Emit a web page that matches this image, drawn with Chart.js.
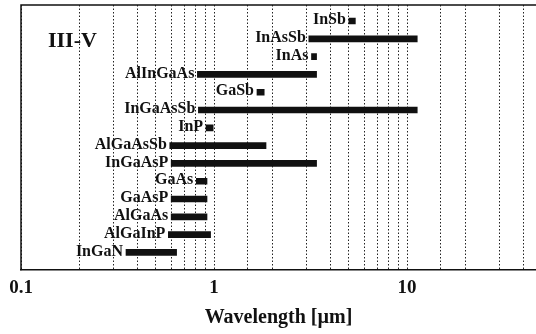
<!DOCTYPE html>
<html>
<head>
<meta charset="utf-8">
<script src="https://cdn.jsdelivr.net/npm/chart.js@4"></script>
<style>
  html, body { margin: 0; padding: 0; background: #fff; }
  #wrap { width: 536px; height: 334px; }
</style>
</head>
<body>
<div id="wrap"><canvas id="chart"></canvas></div>
<script>
// III-V material families and their emission wavelength ranges (µm)
const materials = ["InSb", "InAsSb", "InAs", "AlInGaAs", "GaSb", "InGaAsSb", "InP",
  "AlGaAsSb", "InGaAsP", "GaAs", "GaAsP", "AlGaAs", "AlGaInP", "InGaN"];
const lowUm  = [5.0, 3.1, 3.2, 0.82, 1.67, 0.83, 0.91, 0.59, 0.60, 0.81, 0.60, 0.60, 0.58, 0.35];
const highUm = [5.4, 11.3, 3.4, 3.4, 1.82, 11.3, 0.99, 1.86, 3.4, 0.92, 0.92, 0.92, 0.96, 0.64];
const decadeLabels = [0.1, 1, 10];

const serif = "'Liberation Serif', 'DejaVu Serif', serif";
const ink = "#111";

const rows = materials.map((m, i) => ({ x: [lowUm[i], highUm[i]], y: i }));

// names sit just left of each bar, plus the frame and the group title
const barLabels = {
  id: "barLabels",
  afterDatasetsDraw(chart) {
    const ctx = chart.ctx;
    const meta = chart.getDatasetMeta(0);
    ctx.save();
    ctx.fillStyle = ink;
    ctx.font = "bold 16px " + serif;
    ctx.textAlign = "right";
    ctx.textBaseline = "middle";
    meta.data.forEach((bar, i) => {
      const left = Math.min(bar.x, bar.base);
      ctx.fillText(materials[i], left - 3, bar.y - 1);
    });
    const a = chart.chartArea;
    ctx.font = "bold 22px " + serif;
    ctx.textAlign = "left";
    ctx.textBaseline = "alphabetic";
    ctx.fillText("III-V", a.left + 27, a.top + 42);
    ctx.strokeStyle = ink;
    ctx.lineWidth = 1.5;
    ctx.beginPath();
    ctx.moveTo(a.right, a.top);
    ctx.lineTo(a.left, a.top);
    ctx.lineTo(a.left, a.bottom);
    ctx.stroke();
    ctx.restore();
  }
};

new Chart(document.getElementById("chart"), {
  type: "bar",
  data: {
    datasets: [{
      data: rows,
      backgroundColor: ink,
      borderWidth: 0,
      barThickness: 6,
      borderSkipped: false
    }]
  },
  options: {
    indexAxis: "y",
    responsive: true,
    maintainAspectRatio: false,
    animation: false,
    layout: { padding: { left: 21, top: 5, right: 0, bottom: 4 } },
    plugins: { legend: { display: false }, tooltip: { enabled: false } },
    scales: {
      x: {
        type: "logarithmic",
        min: 0.1,
        max: 46.6,
        // invisible tick marks give the label gap without padding the right edge
        grid: { color: "#222", lineWidth: 1, drawTicks: true, tickLength: 6, tickColor: "rgba(0,0,0,0)" },
        // in v4 border.dash styles the grid lines, the axis line stays solid
        border: { display: true, color: ink, width: 1.5, dash: [1.5, 2] },
        ticks: {
          autoSkip: false,
          maxRotation: 0,
          padding: 0,
          color: ink,
          font: { family: serif, size: 19, weight: "bold" },
          callback: (v) => decadeLabels.includes(Number(v)) ? String(v) : ""
        },
        title: {
          display: true,
          text: "Wavelength [µm]",
          color: ink,
          font: { family: serif, size: 20, weight: "bold" },
          padding: { top: 7, bottom: 0 }
        }
      },
      y: {
        type: "linear",
        reverse: true,
        offset: false,
        min: -0.9,
        max: 14.0,
        display: false
      }
    }
  },
  plugins: [barLabels]
});
</script>
</body>
</html>
